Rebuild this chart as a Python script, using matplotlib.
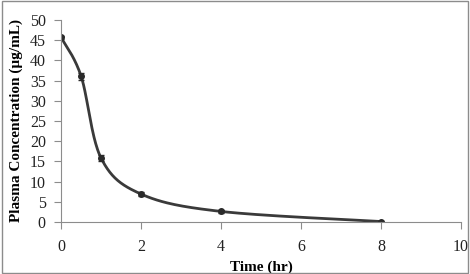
import numpy as np
import matplotlib
matplotlib.use('Agg')
import matplotlib.pyplot as plt
from matplotlib.patches import Rectangle

# sampling times (hr) and measured plasma concentration (ug/mL)
time_hr = [0, 0.5, 1, 2, 4, 8]
conc = [45.7, 36.1, 15.8, 6.9, 2.6, 0.1]
conc_err = [0.3, 0.9, 0.8, 0.5, 0.3, 0.2]


def smooth_curve(x, y, n=40):
    # Excel-style smoothed line: cubic Bezier with Catmull-Rom control points
    x = np.asarray(x, float)
    y = np.asarray(y, float)
    px, py = [], []
    for i in range(len(x) - 1):
        x0, y0 = (x[i - 1], y[i - 1]) if i > 0 else (x[i], y[i])
        x3, y3 = (x[i + 2], y[i + 2]) if i + 2 < len(x) else (x[i + 1], y[i + 1])
        c1x = x[i] + (x[i + 1] - x0) / 6
        c1y = y[i] + (y[i + 1] - y0) / 6
        c2x = x[i + 1] - (x3 - x[i]) / 6
        c2y = y[i + 1] - (y3 - y[i]) / 6
        t = np.linspace(0, 1, n)
        bx = (1-t)**3*x[i] + 3*(1-t)**2*t*c1x + 3*(1-t)*t**2*c2x + t**3*x[i+1]
        by = (1-t)**3*y[i] + 3*(1-t)**2*t*c1y + 3*(1-t)*t**2*c2y + t**3*y[i+1]
        px.extend(bx)
        py.extend(by)
    return np.array(px), np.array(py)


plt.rcParams['font.family'] = ['Liberation Serif', 'DejaVu Serif']

fig = plt.figure(figsize=(4.7, 2.74), dpi=100)
fig.patches.append(Rectangle((0.005, 0.003), 0.99, 0.994, transform=fig.transFigure,
                             fill=False, edgecolor='#8c8c8c', linewidth=1))
ax = fig.add_axes([0.13, 0.19, 0.851, 0.737])

sx, sy = smooth_curve(time_hr, conc)
ax.plot(sx, sy, color='#3a3a3a', linewidth=2)
ax.errorbar(time_hr, conc, yerr=conc_err, fmt='o', color='#2a2a2a', markersize=4,
            capsize=2, elinewidth=1)

ax.set_xlim(0, 10)
ax.set_ylim(0, 50)
ax.set_xticks(range(0, 11, 2))
ax.set_yticks(range(0, 51, 5))
for s in ['top', 'right']:
    ax.spines[s].set_visible(False)
for s in ['left', 'bottom']:
    ax.spines[s].set_color('#8c8c8c')
ax.tick_params(colors='#8c8c8c', labelcolor='#222222', labelsize=11.5, length=5)
ax.tick_params(axis='x', pad=7)
ax.tick_params(axis='y', pad=6)
ax.set_xlabel('Time (hr)', fontweight='bold', fontsize=11, labelpad=4)
ax.set_ylabel('Plasma Concentration (µg/mL)', fontweight='bold', fontsize=11, labelpad=5)

fig.savefig('out.png', dpi=100)
